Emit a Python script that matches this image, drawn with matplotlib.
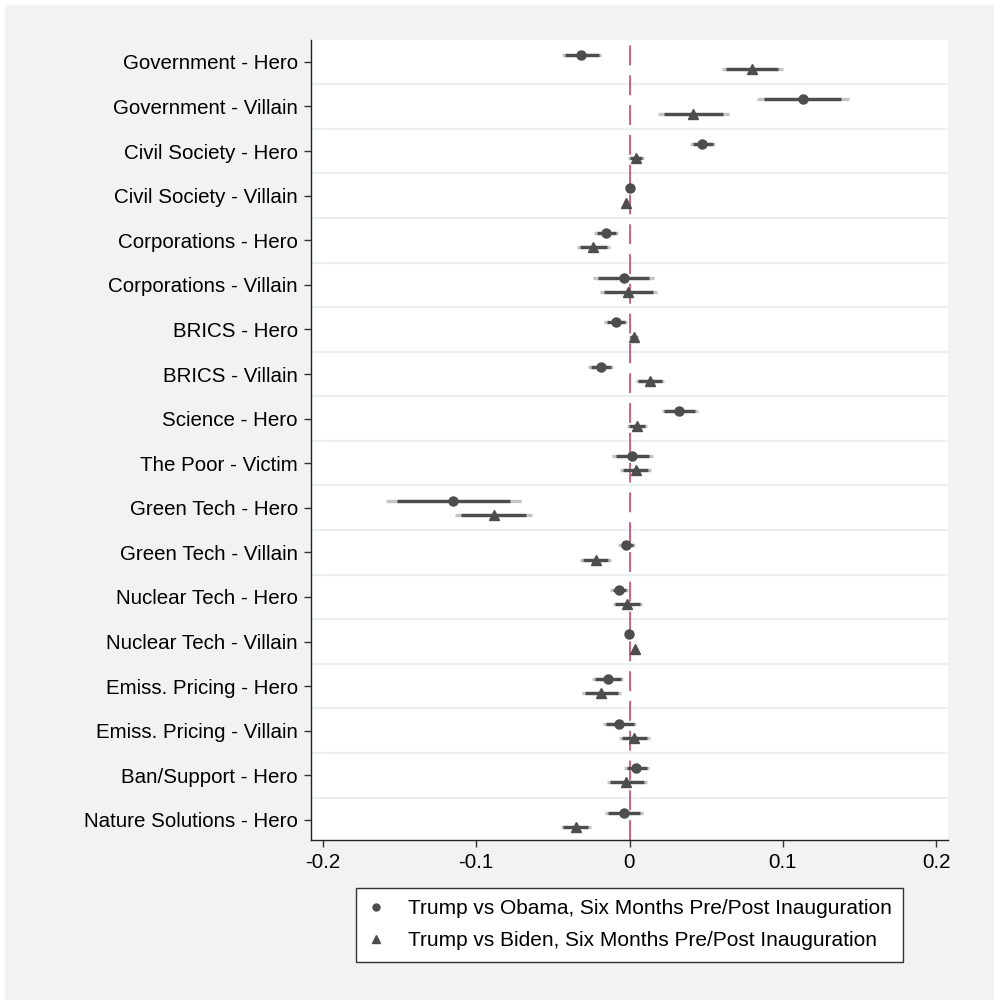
import matplotlib
matplotlib.use("Agg")
import matplotlib.pyplot as plt
from matplotlib.lines import Line2D
from matplotlib.patches import Rectangle

plt.rcParams["font.family"] = ["Liberation Sans", "DejaVu Sans"]

labels = ["Government - Hero", "Government - Villain", "Civil Society - Hero", "Civil Society - Villain",
          "Corporations - Hero", "Corporations - Villain", "BRICS - Hero", "BRICS - Villain",
          "Science - Hero", "The Poor - Victim", "Green Tech - Hero", "Green Tech - Villain",
          "Nuclear Tech - Hero", "Nuclear Tech - Villain", "Emiss. Pricing - Hero",
          "Emiss. Pricing - Villain", "Ban/Support - Hero", "Nature Solutions - Hero"]

# Trump vs Obama: estimate, inner CI (lo, hi), outer CI (lo, hi)
obama_est = [-0.0318, 0.113, 0.0474, 0.0005, -0.0153, -0.0036, -0.0088, -0.0188, 0.0325, 0.0018,
             -0.1148, -0.0023, -0.0070, -0.0001, -0.0142, -0.0066, 0.0044, -0.0036]
obama_lo95 = [-0.042, 0.0878, 0.0412, -0.0005, -0.0214, -0.0203, -0.0148, -0.025, 0.0227, -0.0088,
              -0.1517, -0.0057, -0.0109, -0.0008, -0.0225, -0.0155, -0.0014, -0.0138]
obama_hi95 = [-0.0197, 0.138, 0.0542, 0.0015, -0.0088, 0.0129, -0.0029, -0.0122, 0.0429, 0.0129,
              -0.0778, 0.0025, -0.0023, 0.0006, -0.0057, 0.0029, 0.0112, 0.0068]
obama_lo99 = [-0.0442, 0.0833, 0.0394, -0.0008, -0.0231, -0.0236, -0.0164, -0.0268, 0.021, -0.0114,
              -0.1586, -0.0075, -0.0125, -0.0011, -0.0242, -0.0173, -0.0034, -0.0158]
obama_hi99 = [-0.0188, 0.1428, 0.0555, 0.0018, -0.0075, 0.0162, -0.0014, -0.0105, 0.0446, 0.0151,
              -0.0709, 0.0036, -0.001, 0.0009, -0.0044, 0.0044, 0.0127, 0.0086]

# Trump vs Biden
biden_est = [0.0798, 0.0416, 0.0042, -0.002, -0.0236, -0.0008, 0.0027, 0.0134, 0.0049, 0.0042,
             -0.0885, -0.022, -0.0014, 0.0034, -0.0186, 0.0031, -0.0021, -0.035]
biden_lo95 = [0.0629, 0.0225, 0.0003, -0.003, -0.0322, -0.0164, 0.0003, 0.0057, -0.0001, -0.004,
              -0.1098, -0.0305, -0.0092, 0.0024, -0.029, -0.0051, -0.0127, -0.0431]
biden_hi95 = [0.0967, 0.0611, 0.0081, -0.001, -0.0145, 0.0155, 0.0051, 0.021, 0.0103, 0.0122,
              -0.0674, -0.0138, 0.0068, 0.0044, -0.0073, 0.0116, 0.0094, -0.0268]
biden_lo99 = [0.060, 0.0188, -0.0008, -0.0035, -0.034, -0.0192, -0.0003, 0.004, -0.0014, -0.0062,
              -0.1135, -0.0322, -0.0107, 0.002, -0.0311, -0.0068, -0.0148, -0.0448]
biden_hi99 = [0.0998, 0.0646, 0.0094, -0.0005, -0.0129, 0.0181, 0.0057, 0.0225, 0.0116, 0.014,
              -0.0633, -0.0122, 0.0083, 0.0048, -0.0053, 0.0134, 0.0112, -0.0253]

xticks = [-0.2, -0.1, 0, 0.1, 0.2]
xtick_labels = ["-0.2", "-0.1", "0", "0.1", "0.2"]

dark = "#4D4D4D"
light = "#C4C4C4"

fig = plt.figure(figsize=(9.95, 10), dpi=100)
fig.patches.append(Rectangle((5 / 995, 0), 1, 1 - 5 / 1000, transform=fig.transFigure,
                             facecolor="#F2F2F2", edgecolor="none", zorder=-10))
ax = fig.add_axes([311 / 995, 0.16, (948 - 311) / 995, 0.80])
ax.set_facecolor("white")

pos = list(range(1, len(labels) + 1))
off = 0.16

for i in range(1, len(labels)):
    ax.axhline(i + 0.5, color="#EAF0F3", lw=1.6, zorder=0)

ax.axvline(0, color="#C8365C", lw=1.1, linestyle=(0, (13, 6.5)), zorder=1)

series = [
    (obama_est, obama_lo95, obama_hi95, obama_lo99, obama_hi99, -off, "o", 6.5),
    (biden_est, biden_lo95, biden_hi95, biden_lo99, biden_hi99, off, "^", 7.5),
]
for est, lo95, hi95, lo99, hi99, dy, mk, ms in series:
    ys = [p + dy for p in pos]
    ax.hlines(ys, lo99, hi99, color=light, lw=2.4, zorder=2)
    ax.hlines(ys, lo95, hi95, color=dark, lw=2.4, zorder=3)
    ax.plot(est, ys, linestyle="none", marker=mk, ms=ms, color=dark, mec=dark, zorder=4)

ax.set_xlim(-0.2075, 0.2075)
ax.set_ylim(18.45, 0.51)
ax.set_yticks(pos)
ax.set_yticklabels(labels, fontsize=14.8)
ax.set_xticks(xticks)
ax.set_xticklabels(xtick_labels, fontsize=14.8)
ax.tick_params(axis="both", length=5, width=1, color="#333333")
ax.tick_params(axis="y", pad=4.5)
ax.tick_params(axis="x", pad=4)
for s in ["top", "right"]:
    ax.spines[s].set_visible(False)
for s in ["left", "bottom"]:
    ax.spines[s].set_color("#222222")
    ax.spines[s].set_linewidth(1.0)

handles = [
    Line2D([], [], linestyle="none", marker="o", ms=5, color=dark),
    Line2D([], [], linestyle="none", marker="^", ms=5.5, color=dark),
]
leg = ax.legend(handles, ["Trump vs Obama, Six Months Pre/Post Inauguration",
                          "Trump vs Biden, Six Months Pre/Post Inauguration"],
                loc="upper center", bbox_to_anchor=(0.5, -0.06), fontsize=15,
                frameon=True, fancybox=False, edgecolor="#333333", framealpha=1,
                handlelength=0.8, handletextpad=1.15, borderpad=0.55, labelspacing=0.62,
                borderaxespad=0)
leg.get_frame().set_linewidth(1.0)

fig.savefig("out.png", dpi=100)
